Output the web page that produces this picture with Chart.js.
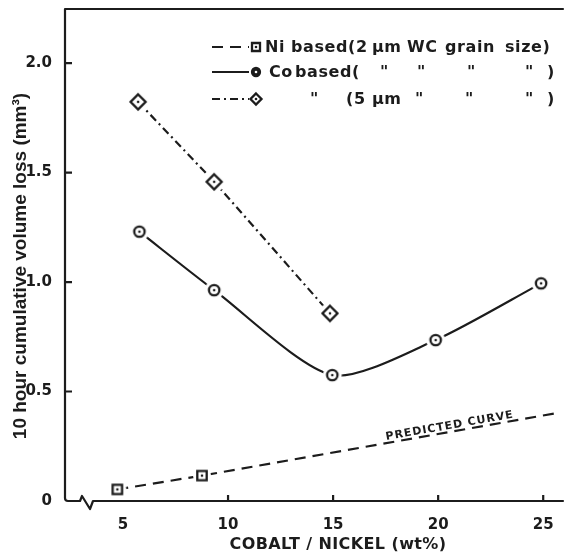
<!DOCTYPE html>
<html>
<head>
<meta charset="utf-8">
<script src="https://cdn.jsdelivr.net/npm/chart.js@4.4.1/dist/chart.umd.min.js"></script>
<style>
  html, body { margin: 0; padding: 0; background: #fff; }
  #wrap { width: 572px; height: 557px; }
</style>
</head>
<body>
<div id="wrap"><canvas id="wearChart" width="572" height="557"></canvas></div>
<script>
// values
const niX  = [4.73, 8.76, 25.55];          // last value = end of the predicted curve
const niY  = [0.053, 0.116, 0.40];
const coX  = [5.78, 9.34, 14.96, 19.88, 24.9];
const coY  = [1.23, 0.963, 0.575, 0.735, 0.994];
const co5X = [5.72, 9.34, 14.85];
const co5Y = [1.823, 1.458, 0.857];

const seriesNames = ['Ni based (2 μm WC grain size)', 'Co based (2 μm)', 'Co based (5 μm)'];
const xTicks = [5, 10, 15, 20, 25];
const yTicks = [0, 0.5, 1.0, 1.5, 2.0];
const yTickLabels = ['0', '0.5', '1.0', '1.5', '2.0'];
const xTitle = 'COBALT / NICKEL (wt%)';
const yTitle = '10 hour cumulative volume loss (mm³)';
const predictedText = 'PREDICTED CURVE';
const predictedAt = 20.6;   // x value where the label sits on the Ni line

const ink = '#1c1c1c';
const letterFont = '"DejaVu Sans", sans-serif';
const lw = 2.2;

function pts(xs, ys) {
  return xs.map((v, i) => ({ x: v, y: ys[i] }));
}

// ring / square / diamond with a centre dot, on a white halo so lines stop short
function makeMarker(kind, r, halo, solid) {
  let s = Math.ceil(2 * Math.max(r + 2, halo)) + 2;
  if (s % 2) s++;
  const c = document.createElement('canvas');
  c.width = c.height = s;
  const g = c.getContext('2d');
  const m = s / 2;
  if (halo) {
    g.fillStyle = '#fff';
    g.beginPath(); g.arc(m, m, halo, 0, Math.PI * 2); g.fill();
  }
  g.strokeStyle = ink;
  g.lineWidth = 2.3;
  g.fillStyle = solid ? ink : '#fff';
  g.beginPath();
  if (kind === 'circle') g.arc(m, m, r, 0, Math.PI * 2);
  else if (kind === 'square') g.rect(m - r, m - r, 2 * r, 2 * r);
  else { g.moveTo(m, m - r); g.lineTo(m + r, m); g.lineTo(m, m + r); g.lineTo(m - r, m); g.closePath(); }
  g.fill(); g.stroke();
  g.fillStyle = solid ? '#fff' : ink;
  g.beginPath(); g.arc(m, m, 1.3, 0, Math.PI * 2); g.fill();
  return c;
}

const marks = {
  square:  makeMarker('square', 4.7, 9),
  circle:  makeMarker('circle', 5.2, 9.5),
  diamond: makeMarker('diamond', 7.5, 10.5)
};
const legendMarks = [
  makeMarker('square', 4, 0),
  makeMarker('circle', 4, 0, true),
  makeMarker('diamond', 5.5, 0)
];

// legend layout (text pieces placed like the hand lettering, with ditto marks)
const legendRowsY = [47, 72, 99];
const legendPieces = [
  [['Ni', 265], ['based(2', 291], ['μm', 372], ['WC', 407], ['grain', 445], ['size)', 505]],
  [['Co', 269], ['based(', 295], ['"', 380], ['"', 417], ['"', 467], ['"', 525], [')', 547]],
  [['"', 310], ['(5', 346], ['μm', 372], ['"', 415], ['"', 465], ['"', 525], [')', 547]]
];

const decor = {
  id: 'decor',
  beforeDatasetsDraw(chart) {
    const { ctx, chartArea: a, scales: { x, y } } = chart;
    ctx.save();
    ctx.strokeStyle = ink;
    ctx.lineWidth = lw;
    ctx.lineJoin = 'round';
    ctx.beginPath();
    ctx.moveTo(a.right, a.top);
    ctx.lineTo(a.left, a.top);
    ctx.lineTo(a.left, a.bottom - 3);
    ctx.quadraticCurveTo(a.left, a.bottom, a.left + 3, a.bottom);
    // broken axis
    ctx.lineTo(a.left + 15, a.bottom);
    ctx.lineTo(a.left + 17, a.bottom - 5);
    ctx.lineTo(a.left + 25, a.bottom + 8);
    ctx.lineTo(a.left + 28, a.bottom);
    ctx.lineTo(a.right, a.bottom);
    ctx.stroke();
    // inward tick marks (none visible at the first x tick in the original)
    ctx.beginPath();
    yTicks.forEach(v => {
      if (v === 0) return;
      const py = y.getPixelForValue(v);
      ctx.moveTo(a.left, py); ctx.lineTo(a.left + 7, py);
    });
    xTicks.slice(1).forEach(v => {
      const px = x.getPixelForValue(v);
      ctx.moveTo(px, a.bottom); ctx.lineTo(px, a.bottom - 6);
    });
    ctx.stroke();
    ctx.restore();
  },
  afterDraw(chart) {
    const { ctx, scales: { x, y } } = chart;
    ctx.save();
    ctx.fillStyle = ink;

    // axis titles
    ctx.font = 'bold 19px "Liberation Sans", Arial, sans-serif';
    ctx.textAlign = 'center';
    ctx.textBaseline = 'middle';
    ctx.save();
    ctx.translate(21, 266);
    ctx.rotate(-Math.PI / 2);
    ctx.fillText(yTitle, 0, 0);
    ctx.restore();

    ctx.font = 'bold 16px ' + letterFont;
    ctx.letterSpacing = '0.4px';
    ctx.fillText(xTitle, 338, 545);

    // label along the predicted (Ni) line
    const x1 = x.getPixelForValue(niX[1]), y1 = y.getPixelForValue(niY[1]);
    const x2 = x.getPixelForValue(niX[2]), y2 = y.getPixelForValue(niY[2]);
    const t = (predictedAt - niX[1]) / (niX[2] - niX[1]);
    const lx = x.getPixelForValue(predictedAt);
    const ly = y.getPixelForValue(niY[1] + t * (niY[2] - niY[1]));
    ctx.save();
    ctx.translate(lx, ly);
    ctx.rotate(Math.atan2(y2 - y1, x2 - x1));
    ctx.font = 'bold 11px ' + letterFont;
    ctx.letterSpacing = '1px';
    ctx.textBaseline = 'alphabetic';
    ctx.fillText(predictedText, 0, -3);
    ctx.restore();

    // legend
    ctx.letterSpacing = '0.6px';
    ctx.font = 'bold 16px ' + letterFont;
    ctx.textAlign = 'left';
    ctx.textBaseline = 'middle';
    chart.data.datasets.forEach((ds, i) => {
      const ry = legendRowsY[i];
      ctx.save();
      ctx.strokeStyle = ink;
      ctx.lineWidth = lw;
      ctx.setLineDash(ds.borderDash || []);
      ctx.beginPath();
      ctx.moveTo(212, ry); ctx.lineTo(249, ry);
      ctx.stroke();
      ctx.restore();
      const mk = legendMarks[i];
      ctx.drawImage(mk, 256 - mk.width / 2, ry - mk.height / 2);
      legendPieces[i].forEach(([txt, px]) => ctx.fillText(txt, px, ry + 1));
    });
    ctx.restore();
  }
};

new Chart(document.getElementById('wearChart'), {
  type: 'line',
  data: {
    datasets: [
      {
        label: seriesNames[0],
        data: pts(niX, niY),
        borderColor: ink,
        borderWidth: lw,
        borderDash: [11, 7],
        pointStyle: marks.square,
        pointRadius: niX.map((v, i) => (i < 2 ? 6 : 0)),
        tension: 0
      },
      {
        label: seriesNames[1],
        data: pts(coX, coY),
        borderColor: ink,
        borderWidth: lw,
        tension: 0.25,
        pointStyle: marks.circle,
        pointRadius: 6
      },
      {
        label: seriesNames[2],
        data: pts(co5X, co5Y),
        borderColor: ink,
        borderWidth: lw,
        borderDash: [8, 4, 2, 4],
        pointStyle: marks.diamond,
        pointRadius: 6,
        tension: 0
      }
    ]
  },
  options: {
    responsive: false,
    animation: false,
    layout: { padding: { top: 9, right: 0, left: 0, bottom: 0 } },
    plugins: { legend: { display: false }, tooltip: { enabled: false } },
    scales: {
      x: {
        type: 'linear',
        min: 2.24,
        max: 25.98,
        grid: { display: false },
        border: { display: false },
        afterBuildTicks: s => { s.ticks = xTicks.map(v => ({ value: v })); },
        afterFit: s => { s.height = 56; s.paddingLeft = 0; s.paddingRight = 0; },
        ticks: { color: ink, font: { family: letterFont, weight: 'bold', size: 15 }, padding: 7,
                 maxRotation: 0, autoSkip: false, callback: v => String(v) }
      },
      y: {
        type: 'linear',
        min: 0,
        max: 2.247,
        grid: { display: false },
        border: { display: false },
        afterBuildTicks: s => { s.ticks = yTicks.map(v => ({ value: v })); },
        afterFit: s => { s.width = 65; s.paddingTop = 0; s.paddingBottom = 0; },
        ticks: { color: ink, font: { family: letterFont, weight: 'bold', size: 15 }, padding: 5,
                 autoSkip: false, callback: (v, i) => yTickLabels[i] }
      }
    }
  },
  plugins: [decor]
});
</script>
</body>
</html>
